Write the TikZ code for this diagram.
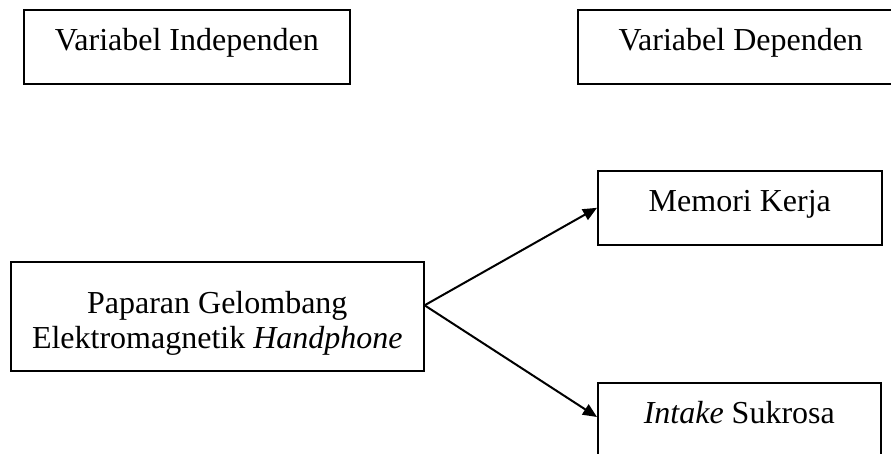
\documentclass[tikz,border=0pt]{standalone}
\usepackage{fontspec}
\setmainfont{Liberation Serif}
\usetikzlibrary{arrows.meta}

\tikzset{every picture/.style={line width=0.75pt}}
\tikzset{
  varbox/.style={draw, line width=1.2pt, anchor=north west, inner sep=0pt, font=\fontsize{24}{26.25}\selectfont},
  onerow/.style={text height=30.75pt, text depth=24.75pt},
  panah/.style={line width=1.5pt, -{Triangle[length=10.5pt,width=9pt]}}
}

\begin{document}
\begin{tikzpicture}[x=0.75pt,y=0.75pt,yscale=-1,xscale=1]
\useasboundingbox (0,0) rectangle (891,453);
\clip (0,0) rectangle (891,453);

% Text Node
\node [varbox, onerow, minimum width=244.5pt] (indep) at (23,9) {Variabel Independen};
% Text Node
\node [varbox, onerow, minimum width=244.5pt] (dep) at (577,9) {Variabel Dependen};
% Text Node
\node [varbox, align=center, text height=65.25pt, text depth=16.5pt, minimum width=309.75pt] (pap) at (10,261) {Paparan Gelombang\\Elektromagnetik \textit{Handphone}};
% Text Node
\node [varbox, onerow, minimum width=213pt] (mem) at (597,170) {Memori Kerja};
% Text Node
\node [varbox, text height=30.75pt, text depth=45pt, minimum width=212.25pt] (intake) at (597,382) {\textit{Intake} Sukrosa};

%Straight Lines
\coordinate (src) at ([yshift=-8.25pt]pap.east);
\coordinate (tip) at ([yshift=26.25pt]intake.north west);
\draw [panah] (src) -- (mem.west);
\draw [panah] (src) -- (tip);

\end{tikzpicture}
\end{document}
